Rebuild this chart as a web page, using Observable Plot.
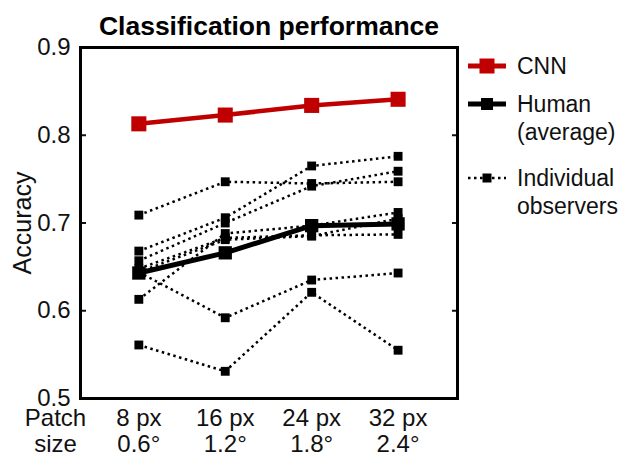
<!DOCTYPE html>
<html>
<head>
<meta charset="utf-8">
<script src="https://cdn.jsdelivr.net/npm/d3@7"></script>
<script src="https://cdn.jsdelivr.net/npm/@observablehq/plot@0.6"></script>
<style>
  body { margin: 0; background: #fff; }
  #wrap { position: relative; width: 621px; height: 457px; font-family: "Liberation Sans", Arial, sans-serif; }
  #legend { position: absolute; left: 466px; top: 0; color: #111; font-size: 23px; line-height: 28px; }
  .item { position: absolute; left: 0; white-space: nowrap; }
  .item svg { position: absolute; left: 0; }
  .item span { position: absolute; left: 51px; white-space: nowrap; }
</style>
</head>
<body>
<div id="wrap">
  <div id="legend"></div>
</div>
<script>
// ---- data ----
const patchPx = [8, 16, 24, 32];
const patchLabelsPx = ["8 px", "16 px", "24 px", "32 px"];
const patchLabelsDeg = ["0.6°", "1.2°", "1.8°", "2.4°"];
const yTicks = [0.5, 0.6, 0.7, 0.8, 0.9];

const cnn = [0.813, 0.823, 0.834, 0.841];
const humanAvg = [0.643, 0.666, 0.697, 0.699];

const obsA = [0.561, 0.531, 0.621, 0.555];
const obsB = [0.644, 0.592, 0.635, 0.643];
const obsC = [0.709, 0.747, 0.745, 0.747];
const obsD = [0.668, 0.706, 0.765, 0.776];
const obsE = [0.657, 0.700, 0.742, 0.759];
const obsF = [0.613, 0.688, 0.697, 0.712];
const obsG = [0.648, 0.683, 0.686, 0.687];
const obsH = [0.644, 0.681, 0.685, 0.705];
const observers = [obsA, obsB, obsC, obsD, obsE, obsF, obsG, obsH];

const title = "Classification performance";
const yLabel = "Accuracy";
const xLabel = "Patch\nsize";

// ---- tables ----
const indData = observers.flatMap((vals, k) => vals.map((v, i) => ({obs: k, x: patchPx[i], y: v})));
const avgData = humanAvg.map((v, i) => ({x: patchPx[i], y: v}));
const cnnData = cnn.map((v, i) => ({x: patchPx[i], y: v}));
const tickLabel = d => patchLabelsPx[patchPx.indexOf(d)] + "\n" + patchLabelsDeg[patchPx.indexOf(d)];

const RED = "#c00000";
const font = "'Liberation Sans', Arial, sans-serif";
const DOTS = "2.5,3.5";

const chart = Plot.plot({
  width: 621,
  height: 457,
  marginLeft: 80,
  marginRight: 164,
  marginTop: 47,
  marginBottom: 59,
  style: {fontFamily: font, fontSize: "24px", color: "#111", background: "transparent"},
  x: {type: "linear", domain: [2.6, 37.5]},
  y: {domain: [0.5, 0.9]},
  marks: [
    Plot.axisX({ticks: patchPx, tickFormat: tickLabel, tickSize: 0, tickPadding: 10, label: null, fontSize: 24, lineHeight: 1.05}),
    Plot.axisY({ticks: yTicks, tickFormat: ".1f", tickSize: 0, tickPadding: 10, label: null, fontSize: 24}),
    Plot.axisY({ticks: yTicks, tickFormat: () => "", tickSize: -6, strokeWidth: 2, label: null}),
    Plot.axisY({anchor: "right", ticks: yTicks, tickFormat: () => "", tickSize: -6, strokeWidth: 2, label: null}),
    Plot.text([yLabel], {frameAnchor: "left", text: d => d, rotate: -90, dx: -58, textAnchor: "middle", fontSize: 25, fill: "#111"}),
    Plot.text([xLabel], {frameAnchor: "bottom-left", text: d => d, dx: -25, dy: 10, lineAnchor: "top", textAnchor: "middle", lineHeight: 1.05, fontSize: 24, fill: "#111"}),
    Plot.text([title], {frameAnchor: "top", text: d => d, dy: -13, lineAnchor: "bottom", fontWeight: "bold", fontSize: 26.5, fill: "#000"}),
    Plot.line(indData, {x: "x", y: "y", z: "obs", stroke: "#000", strokeWidth: 2.5, strokeDasharray: DOTS, strokeLinecap: "butt", strokeLinejoin: "miter"}),
    Plot.dot(indData, {x: "x", y: "y", symbol: "square", r: 5, fill: "#000"}),
    Plot.line(avgData, {x: "x", y: "y", stroke: "#000", strokeWidth: 5}),
    Plot.dot(avgData, {x: "x", y: "y", symbol: "square", r: 7.5, fill: "#000"}),
    Plot.line(cnnData, {x: "x", y: "y", stroke: RED, strokeWidth: 4.5}),
    Plot.dot(cnnData, {x: "x", y: "y", symbol: "square", r: 8.5, fill: RED}),
    Plot.frame({stroke: "#000", strokeWidth: 3})
  ]
});
document.getElementById("wrap").prepend(chart);

// ---- legend ----
const legendItems = [
  {lines: ["CNN"], stroke: RED, width: 5, dash: null, size: 15, top: 52},
  {lines: ["Human", "(average)"], stroke: "#000", width: 5, dash: null, size: 12, top: 90},
  {lines: ["Individual", "observers"], stroke: "#000", width: 2.5, dash: DOTS, size: 9, top: 164}
];
const legend = document.getElementById("legend");
for (const it of legendItems) {
  const div = document.createElement("div");
  div.className = "item";
  div.style.top = it.top + "px";
  const cy = 14;
  div.innerHTML =
    `<svg width="42" height="28" style="top:0">` +
    `<line x1="2" x2="40" y1="${cy}" y2="${cy}" stroke="${it.stroke}" stroke-width="${it.width}"${it.dash ? ` stroke-dasharray="${it.dash}"` : ""}/>` +
    `<rect x="${21 - it.size / 2}" y="${cy - it.size / 2}" width="${it.size}" height="${it.size}" fill="${it.stroke}"/>` +
    `</svg>` +
    `<span style="top:0">${it.lines.join("<br>")}</span>`;
  legend.appendChild(div);
}
</script>
</body>
</html>
